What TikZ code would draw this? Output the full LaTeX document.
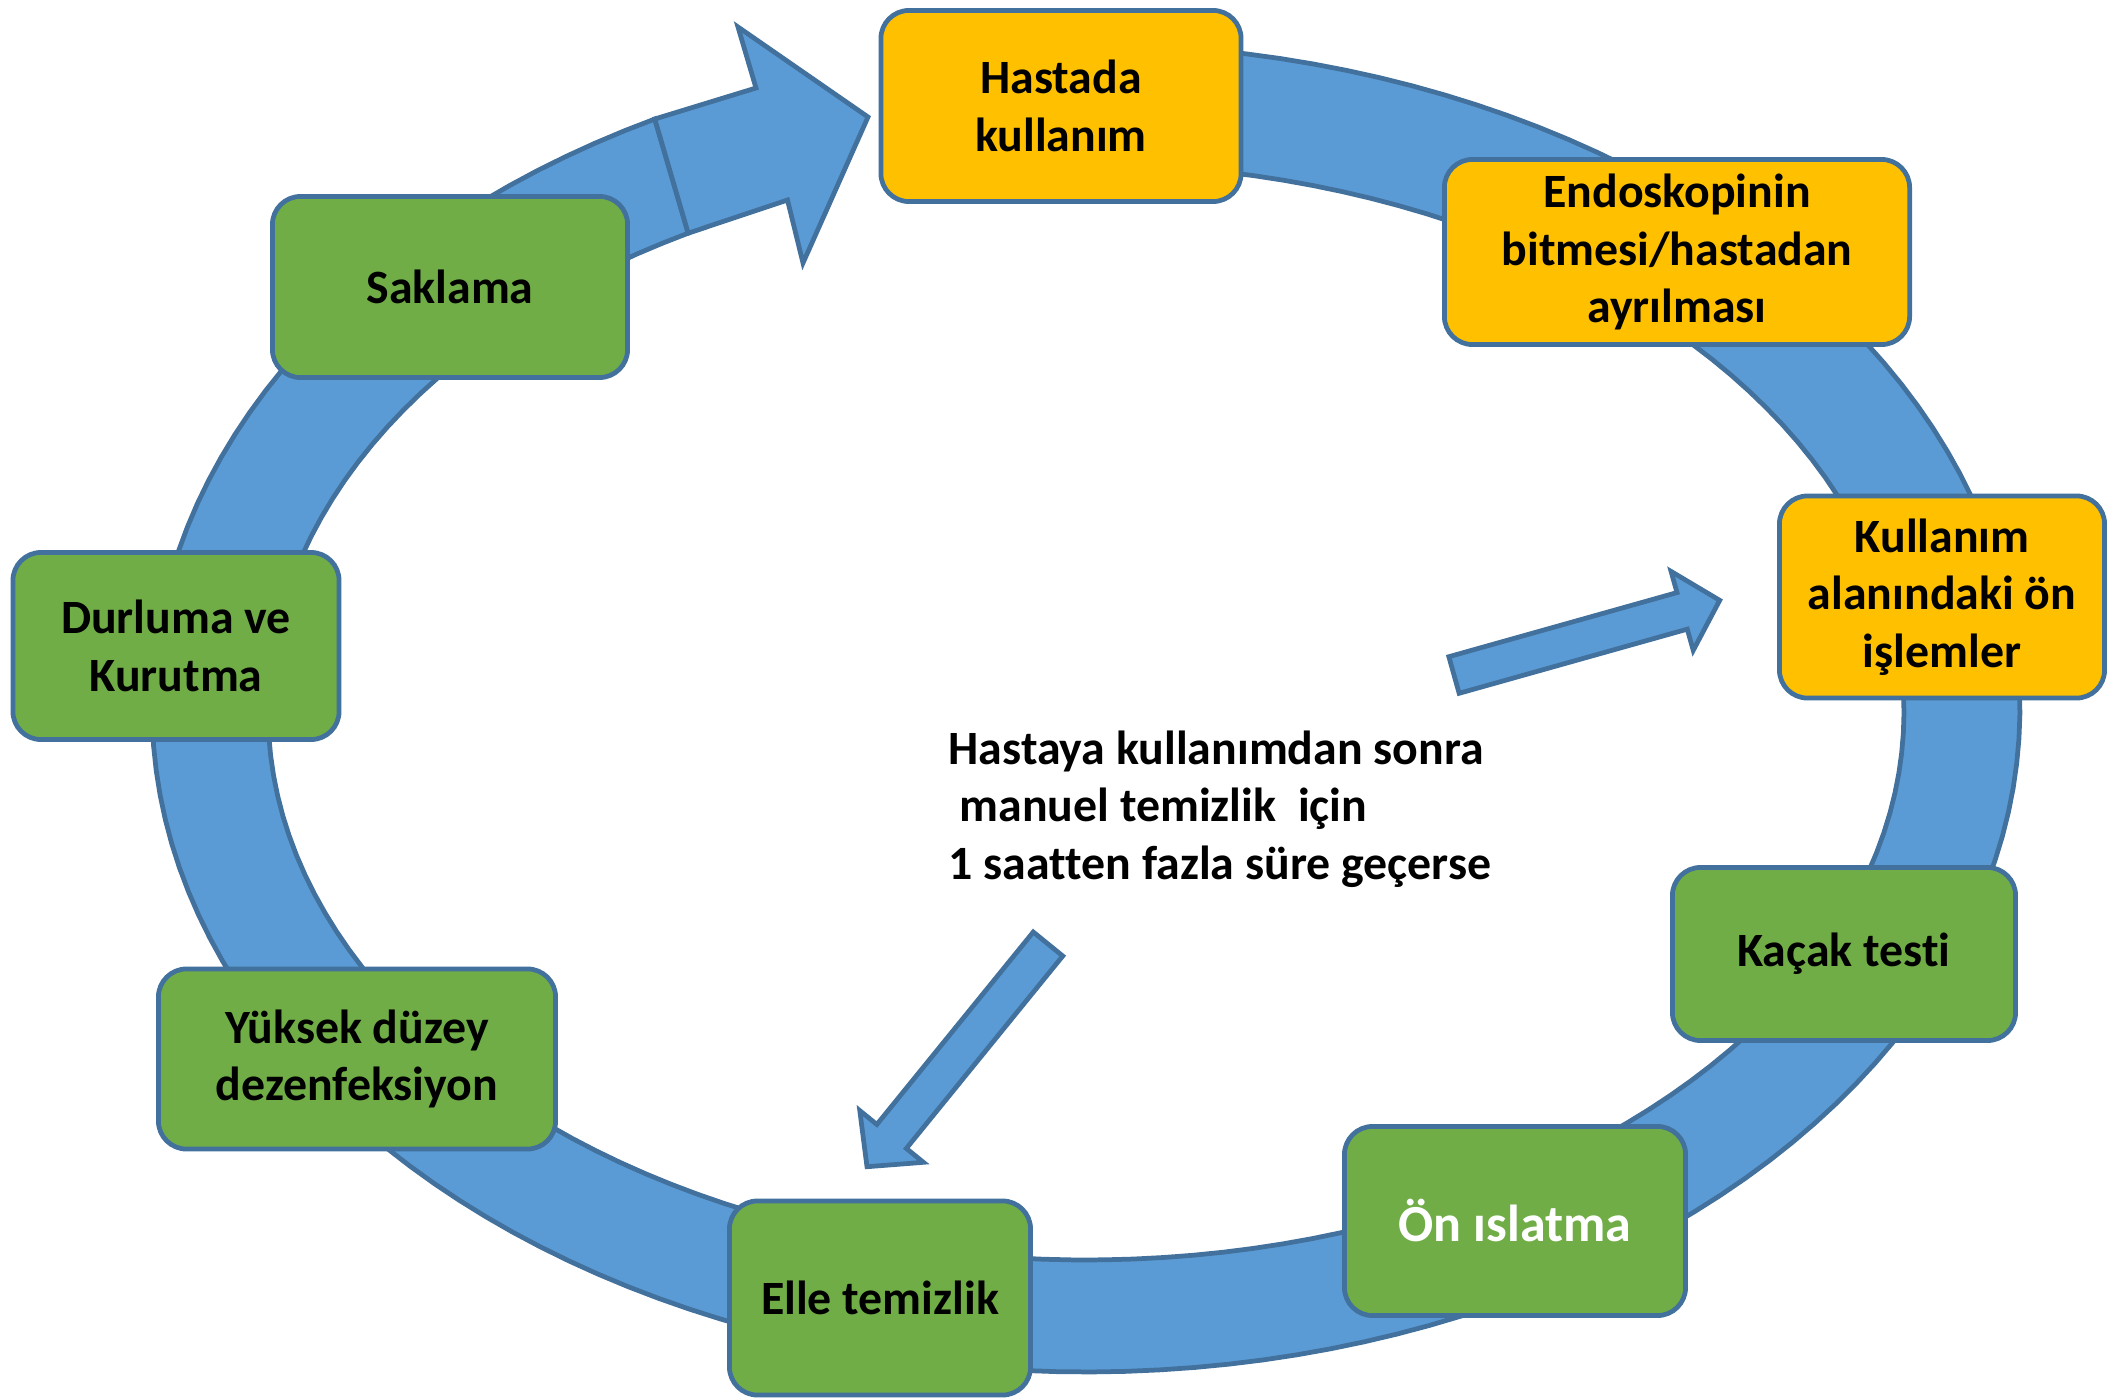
\documentclass[tikz,border=0pt]{standalone}
\usepackage{fontspec}
\setmainfont[Ligatures=CommonOff]{Carlito}
\usepackage{tikz}

\definecolor{ringblue}{HTML}{5B9BD5}
\definecolor{edgeblue}{HTML}{41719C}
\definecolor{boxorange}{HTML}{FFC000}
\definecolor{boxgreen}{HTML}{70AD47}

\newcommand{\blockarr}[3]{%
  \draw[ring, shift={(#1)}, rotate=#2] (0,-19) -- ({#3-39},-19) -- ({#3-39},-41) -- (#3,0)
    -- ({#3-39},41) -- ({#3-39},19) -- (0,19) -- cycle;}

\begin{document}
\begin{tikzpicture}[
    x=0.01cm, y=-0.01cm,
    stage/.style={rectangle, rounded corners=8pt, draw=edgeblue, line width=1.35pt, align=center,
      inner sep=0pt, font=\bfseries\fontsize{13.6}{16.4}\selectfont},
    prep/.style={stage, fill=boxorange},
    wash/.style={stage, fill=boxgreen},
    ring/.style={fill=ringblue, draw=edgeblue, line width=1.35pt, line join=miter}
]
\fill[white] (0,0) rectangle (2123,1400);
\useasboundingbox (0,0) rectangle (2123,1400);

\draw[ring] plot[domain=-95:242.5, samples=160] ({1086+934*cos(\x)},{708+664*sin(\x)})
  -- plot[domain=0:335.9, samples=160] ({1086+818*cos(240.9-\x)},{712+548*sin(240.9-\x)}) -- cycle;
\draw[ring] (654.8,119) -- (756,88) -- (738,27) -- (868,117) -- (803,263) -- (787.5,200) -- (688.2,233.2) -- cycle;

\coordinate (tail1) at (1454,675);
\coordinate (tail2) at (1048,944);
\blockarr{tail1}{15.7}{276}
\blockarr{tail2}{230.9}{287}

\node[anchor=west, align=left, inner sep=0pt, font=\bfseries\fontsize{13.6}{16.4}\selectfont] (note) at (948,809)
  {Hastaya kullanımdan sonra\\\hspace*{0.23em}manuel temizlik\ \ için\\1 saatten fazla süre geçerse};

\node[prep, minimum width=3.60cm, minimum height=1.91cm] (hastada) at (1061,106) {Hastada\\kullanım};
\node[prep, minimum width=4.65cm, minimum height=1.85cm] (endo) at (1677,252) {Endoskopinin\\bitmesi/hastadan\\ayrılması};
\node[prep, minimum width=3.25cm, minimum height=2.02cm] (onislem) at (1942,597) {Kullanım\\alanındaki ön\\işlemler};
\node[wash, minimum width=3.43cm, minimum height=1.73cm] (kacak) at (1844,954) {Kaçak testi};
\node[wash, text=white, font=\bfseries\fontsize{14.8}{17}\selectfont, minimum width=3.41cm, minimum height=1.89cm] (islatma) at (1515,1221) {Ön ıslatma};
\node[wash, minimum width=3.01cm, minimum height=1.94cm] (elle) at (880,1298) {Elle temizlik};
\node[wash, minimum width=3.97cm, minimum height=1.80cm] (yuksek) at (357,1059) {Yüksek düzey\\dezenfeksiyon};
\node[wash, minimum width=3.26cm, minimum height=1.87cm] (durluma) at (176,646) {Durluma ve\\Kurutma};
\node[wash, minimum width=3.55cm, minimum height=1.81cm] (saklama) at (450,287) {Saklama};
\end{tikzpicture}
\end{document}
